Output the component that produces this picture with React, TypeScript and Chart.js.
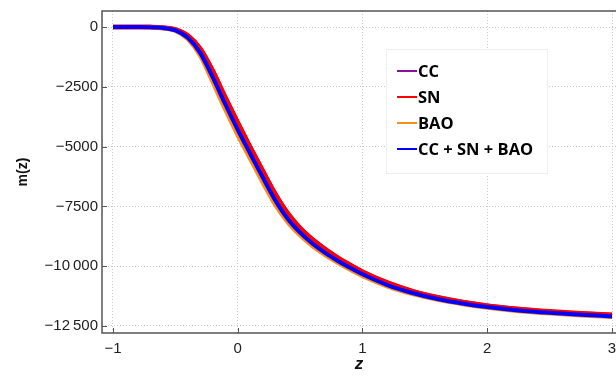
import React, { useEffect, useRef } from "react";
import { Chart, registerables } from "chart.js";

Chart.register(...registerables);

const zValues = [-1, -0.8, -0.7, -0.6, -0.5, -0.4, -0.3, -0.2, -0.1, 0, 0.1, 0.2, 0.3, 0.4, 0.5, 0.6, 0.7, 0.8, 0.9, 1.0, 1.2, 1.4, 1.6, 1.8, 2.0, 2.25, 2.5, 2.75, 3.0];

const ccValues = [0, 0, -4, -27, -100, -350, -900, -1820, -2920, -3980, -5000, -5990, -6950, -7760, -8390, -8870, -9270, -9620, -9930, -10220, -10680, -11030, -11290, -11490, -11640, -11780, -11890, -11970, -12030];
const snValues = [0, 0, -5, -30, -108, -365, -925, -1860, -2960, -4020, -5040, -6030, -6990, -7800, -8420, -8900, -9300, -9650, -9960, -10240, -10700, -11050, -11310, -11510, -11660, -11800, -11900, -11980, -12040];
const baoValues = [0, -2, -10, -48, -165, -520, -1220, -2330, -3470, -4540, -5530, -6510, -7440, -8170, -8720, -9170, -9540, -9860, -10150, -10420, -10850, -11170, -11410, -11590, -11740, -11880, -11980, -12060, -12120];
const combinedValues = [0, -1, -7, -38, -140, -450, -1090, -2110, -3230, -4300, -5300, -6290, -7240, -8020, -8600, -9060, -9440, -9770, -10070, -10340, -10790, -11120, -11370, -11560, -11710, -11850, -11950, -12030, -12100];

const seriesLabels = ["CC", "SN", "BAO", "CC + SN + BAO"];
const seriesColors = ["#8e0f9e", "#ff0000", "#ff8c1a", "#0000ff"];

const xTicks = [-1, 0, 1, 2, 3];
const yTicks = [-12500, -10000, -7500, -5000, -2500, 0];
const yTickLabels: Record<number, string> = {
  0: "0",
  [-2500]: "\u22122500",
  [-5000]: "\u22125000",
  [-7500]: "\u22127500",
  [-10000]: "\u221210\u2009000",
  [-12500]: "\u221212\u2009500",
};

const TICK_FONT = "'Liberation Sans', Arial, sans-serif";
const LEGEND_FONT = "'Open Sans', 'Noto Sans', sans-serif";

const framePlugin = {
  id: "frame",
  afterDraw(chart: any) {
    const { ctx, chartArea } = chart;
    const xs = chart.scales.x;
    const ys = chart.scales.y;
    ctx.save();
    ctx.strokeStyle = "#555";
    ctx.lineWidth = 1.5;
    ctx.beginPath();
    ctx.rect(chartArea.left, chartArea.top, chartArea.right - chartArea.left + 5, chartArea.bottom - chartArea.top);
    ctx.stroke();
    ctx.lineWidth = 1;
    ctx.beginPath();
    for (const v of xTicks) {
      const px = Math.round(xs.getPixelForValue(v)) + 0.5;
      ctx.moveTo(px, chartArea.bottom);
      ctx.lineTo(px, chartArea.bottom - 5);
    }
    for (const v of yTicks) {
      const py = Math.round(ys.getPixelForValue(v)) + 0.5;
      ctx.moveTo(chartArea.left, py);
      ctx.lineTo(chartArea.left + 5, py);
    }
    ctx.stroke();

    // legend box
    const bx = 386, by = 49, bw = 161, bh = 124;
    ctx.fillStyle = "#ffffff";
    ctx.fillRect(bx, by, bw, bh);
    ctx.strokeStyle = "#eeeeee";
    ctx.lineWidth = 1;
    ctx.strokeRect(bx + 0.5, by + 0.5, bw, bh);
    ctx.font = `bold 16.5px ${LEGEND_FONT}`;
    ctx.textBaseline = "middle";
    ctx.textAlign = "left";
    seriesLabels.forEach((label, i) => {
      const y = by + 22 + i * 26;
      ctx.strokeStyle = seriesColors[i];
      ctx.lineWidth = 2;
      ctx.beginPath();
      ctx.moveTo(bx + 11, y);
      ctx.lineTo(bx + 31, y);
      ctx.stroke();
      ctx.fillStyle = "#000";
      ctx.fillText(label, bx + 32, y + 1);
    });
    ctx.restore();
  },
};

export default function App() {
  const ref = useRef<HTMLCanvasElement>(null);
  useEffect(() => {
    document.body.style.margin = "0";
    const datasets = [ccValues, snValues, baoValues, combinedValues].map((vals, i) => ({
      label: seriesLabels[i],
      data: zValues.map((z, j) => ({ x: z, y: vals[j] })),
      borderColor: seriesColors[i],
      backgroundColor: seriesColors[i],
      borderWidth: i === 1 ? 5 : 4,
      pointRadius: 0,
      cubicInterpolationMode: "monotone" as const,
      order: 4 - i,
      clip: false as any,
    }));
    const chart = new Chart(ref.current!, {
      type: "line",
      data: { datasets },
      plugins: [framePlugin],
      options: {
        animation: false,
        responsive: false,
        layout: { padding: { top: 11, right: 0, left: 0, bottom: 0 } },
        plugins: { legend: { display: false }, tooltip: { enabled: false } },
        scales: {
          x: {
            type: "linear",
            min: -1.088,
            max: 3.032,
            afterBuildTicks: (s: any) => { s.ticks = xTicks.map((v) => ({ value: v })); },
            afterFit: (s: any) => { s.height = 50; s.paddingLeft = 0; s.paddingRight = 0; },
            grid: { color: "#c8c8c8", drawTicks: false } as any,
            border: { display: false, dash: [1, 2] } as any,
            ticks: {
              padding: 7,
              color: "#222",
              font: { family: TICK_FONT, size: 15 },
              callback: (v: any) => (v < 0 ? "\u2212" + Math.abs(v) : String(v)),
              maxRotation: 0,
            },
            title: {
              display: true,
              text: "z",
              color: "#111",
              font: { family: TICK_FONT, size: 17, weight: "bold", style: "italic" },
              padding: { top: 0, bottom: 8 },
            },
          },
          y: {
            type: "linear",
            min: -12794,
            max: 669,
            afterBuildTicks: (s: any) => { s.ticks = yTicks.map((v) => ({ value: v })); },
            afterFit: (s: any) => { s.width = 102; s.paddingTop = 0; s.paddingBottom = 0; },
            grid: { color: "#c8c8c8", drawTicks: false } as any,
            border: { display: false, dash: [1, 2] } as any,
            ticks: {
              padding: 4,
              color: "#222",
              font: { family: TICK_FONT, size: 15 },
              callback: (v: any) => yTickLabels[v] ?? String(v),
            },
            title: {
              display: true,
              text: "m(z)",
              color: "#111",
              font: { family: TICK_FONT, size: 14, weight: "bold" },
              padding: { top: 15, bottom: 0 },
            },
          },
        },
      },
    });
    return () => chart.destroy();
  }, []);
  return <canvas ref={ref} width={616} height={383} style={{ display: "block" }} />;
}
